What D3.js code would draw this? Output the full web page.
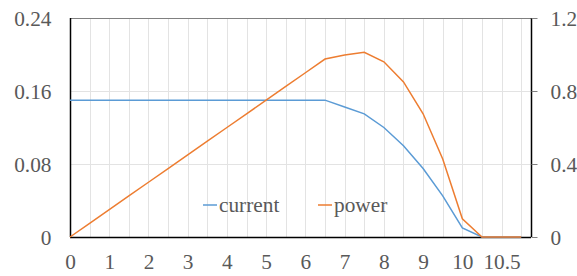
<!DOCTYPE html>
<html>
<head>
<meta charset="utf-8">
<script src="https://cdn.jsdelivr.net/npm/d3@7"></script>
<style>
body { margin: 0; background: #fff; }
</style>
</head>
<body>
<div id="vis"></div>
<script>
//the data
var voltage = ["0","0.5","1","1.5","2","2.5","3","3.5","4","4.5","5","5.5","6","6.5","7","7.5","8","8.5","9","9.5","10","10.25","10.5","10.75"];
var current = [0.15,0.15,0.15,0.15,0.15,0.15,0.15,0.15,0.15,0.15,0.15,0.15,0.15,0.15,0.1425,0.135,0.12,0.1,0.075,0.045,0.01,0,0,0];
var power = [0,0.075,0.15,0.225,0.3,0.375,0.45,0.525,0.6,0.675,0.75,0.825,0.9,0.975,0.9975,1.0125,0.96,0.85,0.675,0.4275,0.1,0,0,0];
var leftTicks = [0, 0.08, 0.16, 0.24];
var rightTicks = [0, 0.4, 0.8, 1.2];
var seriesNames = ["current", "power"];
var colors = ["#5B9BD5", "#ED7D31"];

var w = 577;
var h = 276;
var pLeft = 70, pRight = 531, pTop = 18, pBottom = 237;
var font = "'Liberation Serif', 'Times New Roman', serif";

var svg = d3.select("#vis")
.append("svg")
.attr("width", w)
.attr("height", h);

//scales
var x = d3.scaleLinear()
.domain([0, voltage.length - 0.5])
.range([pLeft, pRight]);

var y = d3.scaleLinear()
.domain([0, 0.24])
.range([pBottom, pTop]);

var y2 = d3.scaleLinear()
.domain([0, 1.2])
.range([pBottom, pTop]);

//grid lines
svg.append("g")
.selectAll("line")
.data(d3.range(1, voltage.length))
.enter()
.append("line")
.attr("x1", d => Math.round(x(d)) + 0.5)
.attr("x2", d => Math.round(x(d)) + 0.5)
.attr("y1", pTop)
.attr("y2", pBottom)
.attr("stroke", "#e3e3e3");

svg.append("g")
.selectAll("line")
.data(leftTicks.slice(1, 3))
.enter()
.append("line")
.attr("x1", pLeft)
.attr("x2", pRight)
.attr("y1", d => Math.round(y(d)) + 0.5)
.attr("y2", d => Math.round(y(d)) + 0.5)
.attr("stroke", "#e3e3e3");

//top border
svg.append("line")
.attr("x1", pLeft).attr("x2", pRight)
.attr("y1", pTop + 0.5).attr("y2", pTop + 0.5)
.attr("stroke", "#808080");

//left axis
var gl = svg.append("g")
.attr("transform", `translate(${pLeft + 0.5},0)`)
.call(d3.axisLeft(y).tickValues(leftTicks).tickSize(0).tickPadding(19).tickFormat(d => d == 0 ? "0" : d3.format(".2f")(d)));
gl.select(".domain").attr("stroke", "#000").attr("stroke-width", 1.5).attr("d", `M0,${pTop}V${pBottom}`);

//right axis
var gr = svg.append("g")
.attr("transform", `translate(${pRight + 0.5},0)`)
.call(d3.axisRight(y2).tickValues(rightTicks).tickSize(6).tickPadding(13).tickFormat(d => d == 0 ? "0" : d3.format(".1f")(d)));
gr.select(".domain").attr("stroke", "#000").attr("stroke-width", 1.5).attr("d", `M0,${pTop}V${pBottom}`);
gr.selectAll(".tick line").attr("stroke", "#808080");

//bottom axis
var gb = svg.append("g")
.attr("transform", `translate(0,${pBottom + 0.5})`)
.call(d3.axisBottom(x).tickValues(d3.range(0, voltage.length, 2)).tickSize(0).tickPadding(17).tickFormat(i => voltage[i]));
gb.select(".domain").attr("stroke", "#000").attr("stroke-width", 1.5).attr("d", `M${pLeft},0H${pRight}`);

svg.selectAll("g").attr("font-family", null).attr("font-size", null);
svg.selectAll(".tick text")
.style("font-family", font)
.style("font-size", "21.3px")
.attr("fill", "#595959");
gl.selectAll("text").attr("dy", "0.35em");
gr.selectAll("text").attr("dy", "0.35em");
gb.selectAll("text").attr("dy", "0.68em");

//lines
var lineLeft = d3.line().x((d, i) => x(i)).y(d => y(d));
var lineRight = d3.line().x((d, i) => x(i)).y(d => y2(d));

svg.append("path")
.datum(current)
.attr("d", lineLeft)
.attr("fill", "none")
.attr("stroke", colors[0])
.attr("stroke-width", 1.5);

svg.append("path")
.datum(power)
.attr("d", lineRight)
.attr("fill", "none")
.attr("stroke", colors[1])
.attr("stroke-width", 1.5);

//legend
var legendX = [203, 318];
var legend = svg.append("g")
.selectAll("g")
.data(seriesNames)
.enter()
.append("g")
.attr("transform", (d, i) => `translate(${legendX[i]},205)`);

legend.append("line")
.attr("x1", 0).attr("x2", 14)
.attr("stroke", (d, i) => colors[i])
.attr("stroke-width", 1.5);

legend.append("text")
.attr("x", 16)
.attr("y", 7)
.style("font-family", font)
.style("font-size", "21.3px")
.attr("fill", "#595959")
.text(d => d);
</script>
</body>
</html>
